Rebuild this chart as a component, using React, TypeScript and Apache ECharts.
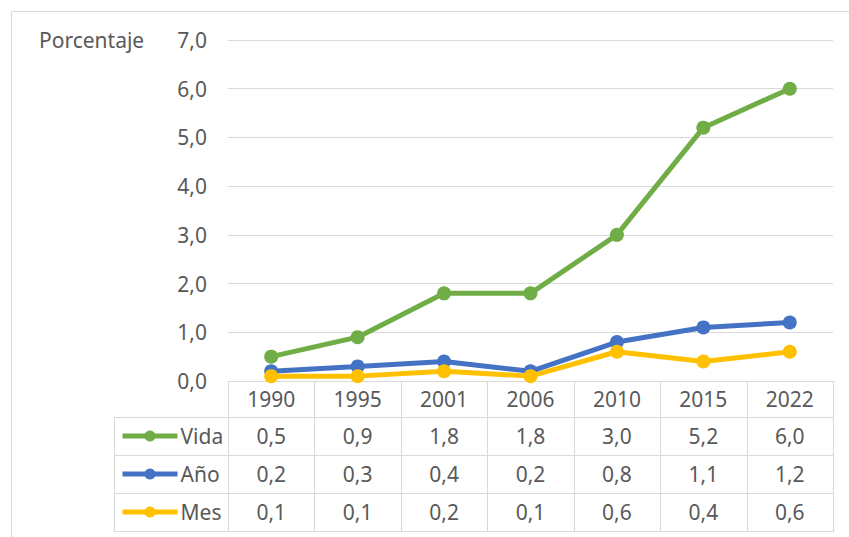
import React, { useEffect, useRef } from 'react';
import * as echarts from 'echarts';

const years = ['1990', '1995', '2001', '2006', '2010', '2015', '2022'];
const vida = [0.5, 0.9, 1.8, 1.8, 3.0, 5.2, 6.0];
const anio = [0.2, 0.3, 0.4, 0.2, 0.8, 1.1, 1.2];
const mes = [0.1, 0.1, 0.2, 0.1, 0.6, 0.4, 0.6];
const seriesNames = ['Vida', 'Año', 'Mes'];
const seriesData = [vida, anio, mes];
const colors = ['#70AD47', '#4472C4', '#FFC000'];
const yAxisTitle = 'Porcentaje';

const W = 849;
const H = 537;
const FONT = '"Noto Sans", sans-serif';
const FS = 21;
const TEXT = '#595959';
const LINE = '#D9D9D9';
const GRID = { left: 228, right: 16, top: 40, bottom: 156 };
const ROW_Y = [381, 417, 455, 493, 531];
const LEGEND_COL_LEFT = 114;

const fmt = (v: number) => v.toFixed(1).replace('.', ',');

export default function App() {
  const ref = useRef<HTMLDivElement>(null);
  useEffect(() => {
    if (!ref.current) return;
    const chart = echarts.init(ref.current, undefined, { renderer: 'svg' });
    chart.setOption({
      animation: false,
      backgroundColor: '#ffffff',
      textStyle: { fontFamily: FONT },
      grid: { left: GRID.left, right: GRID.right, top: GRID.top, bottom: GRID.bottom },
      legend: seriesNames.map((n, r) => ({
        data: [n],
        left: 120,
        top: (ROW_Y[r + 1] + ROW_Y[r + 2]) / 2 - 12,
        padding: 0,
        itemWidth: 55,
        itemHeight: 14,
        itemGap: 0,
        selectedMode: false,
        lineStyle: { width: 5 },
        textStyle: { fontFamily: FONT, fontSize: FS, color: TEXT, padding: [0, 0, 0, -2], lineHeight: 24 },
      })),
      xAxis: {
        type: 'category',
        data: years,
        boundaryGap: true,
        axisLine: { show: true, lineStyle: { color: LINE, width: 1 } },
        axisTick: { show: false },
        axisLabel: { fontFamily: FONT, fontSize: FS, color: TEXT, margin: 18, verticalAlign: 'middle' },
        splitLine: { show: false },
      },
      yAxis: {
        type: 'value',
        min: 0,
        max: 7,
        interval: 1,
        axisLine: { show: false },
        axisTick: { show: false },
        axisLabel: { fontFamily: FONT, fontSize: FS, color: TEXT, margin: 21, formatter: (v: number) => fmt(v) },
        splitLine: { show: true, lineStyle: { color: LINE, width: 1 } },
      },
      series: seriesNames.map((n, r) => ({
        name: n,
        type: 'line',
        data: seriesData[r],
        symbol: 'circle',
        symbolSize: 14,
        lineStyle: { color: colors[r], width: 5 },
        itemStyle: { color: colors[r] },
        z: 2 + r,
      })),
    });

    const xs = years.map((_, i) => chart.convertToPixel({ xAxisIndex: 0 }, i) as number);
    const step = xs[1] - xs[0];
    const left = xs[0] - step / 2;
    const right = xs[xs.length - 1] + step / 2;
    const graphics: any[] = [];
    graphics.push({
      type: 'rect',
      shape: { x: 11.5, y: 11.5, width: W + 20, height: H + 20 },
      style: { fill: 'none', stroke: LINE, lineWidth: 1 },
      silent: true,
    });
    graphics.push({
      type: 'text',
      x: 39,
      y: GRID.top,
      style: { text: yAxisTitle, fontFamily: FONT, fontSize: FS, fill: TEXT, textAlign: 'left', textVerticalAlign: 'middle' },
    });
    for (let k = 1; k < ROW_Y.length; k++) {
      graphics.push({
        type: 'line',
        shape: { x1: LEGEND_COL_LEFT, y1: ROW_Y[k] + 0.5, x2: right, y2: ROW_Y[k] + 0.5 },
        style: { stroke: LINE, lineWidth: 1 },
      });
    }
    graphics.push({
      type: 'line',
      shape: { x1: LEGEND_COL_LEFT + 0.5, y1: ROW_Y[1], x2: LEGEND_COL_LEFT + 0.5, y2: ROW_Y[4] + 1 },
      style: { stroke: LINE, lineWidth: 1 },
    });
    for (let k = 0; k <= years.length; k++) {
      const x = Math.round(left + k * step) + 0.5;
      graphics.push({
        type: 'line',
        shape: { x1: x, y1: ROW_Y[0], x2: x, y2: ROW_Y[4] + 1 },
        style: { stroke: LINE, lineWidth: 1 },
      });
    }
    seriesData.forEach((arr, r) => {
      const cy = (ROW_Y[r + 1] + ROW_Y[r + 2]) / 2;
      arr.forEach((v, i) => {
        graphics.push({
          type: 'text',
          x: xs[i],
          y: cy,
          style: { text: fmt(v), fontFamily: FONT, fontSize: FS, fill: TEXT, textAlign: 'center', textVerticalAlign: 'middle' },
        });
      });
    });
    chart.setOption({ graphic: graphics });
    return () => chart.dispose();
  }, []);
  return (
    <div
      ref={ref}
      style={{ position: 'fixed', left: 0, top: 0, width: W, height: H, background: '#fff' }}
    />
  );
}
